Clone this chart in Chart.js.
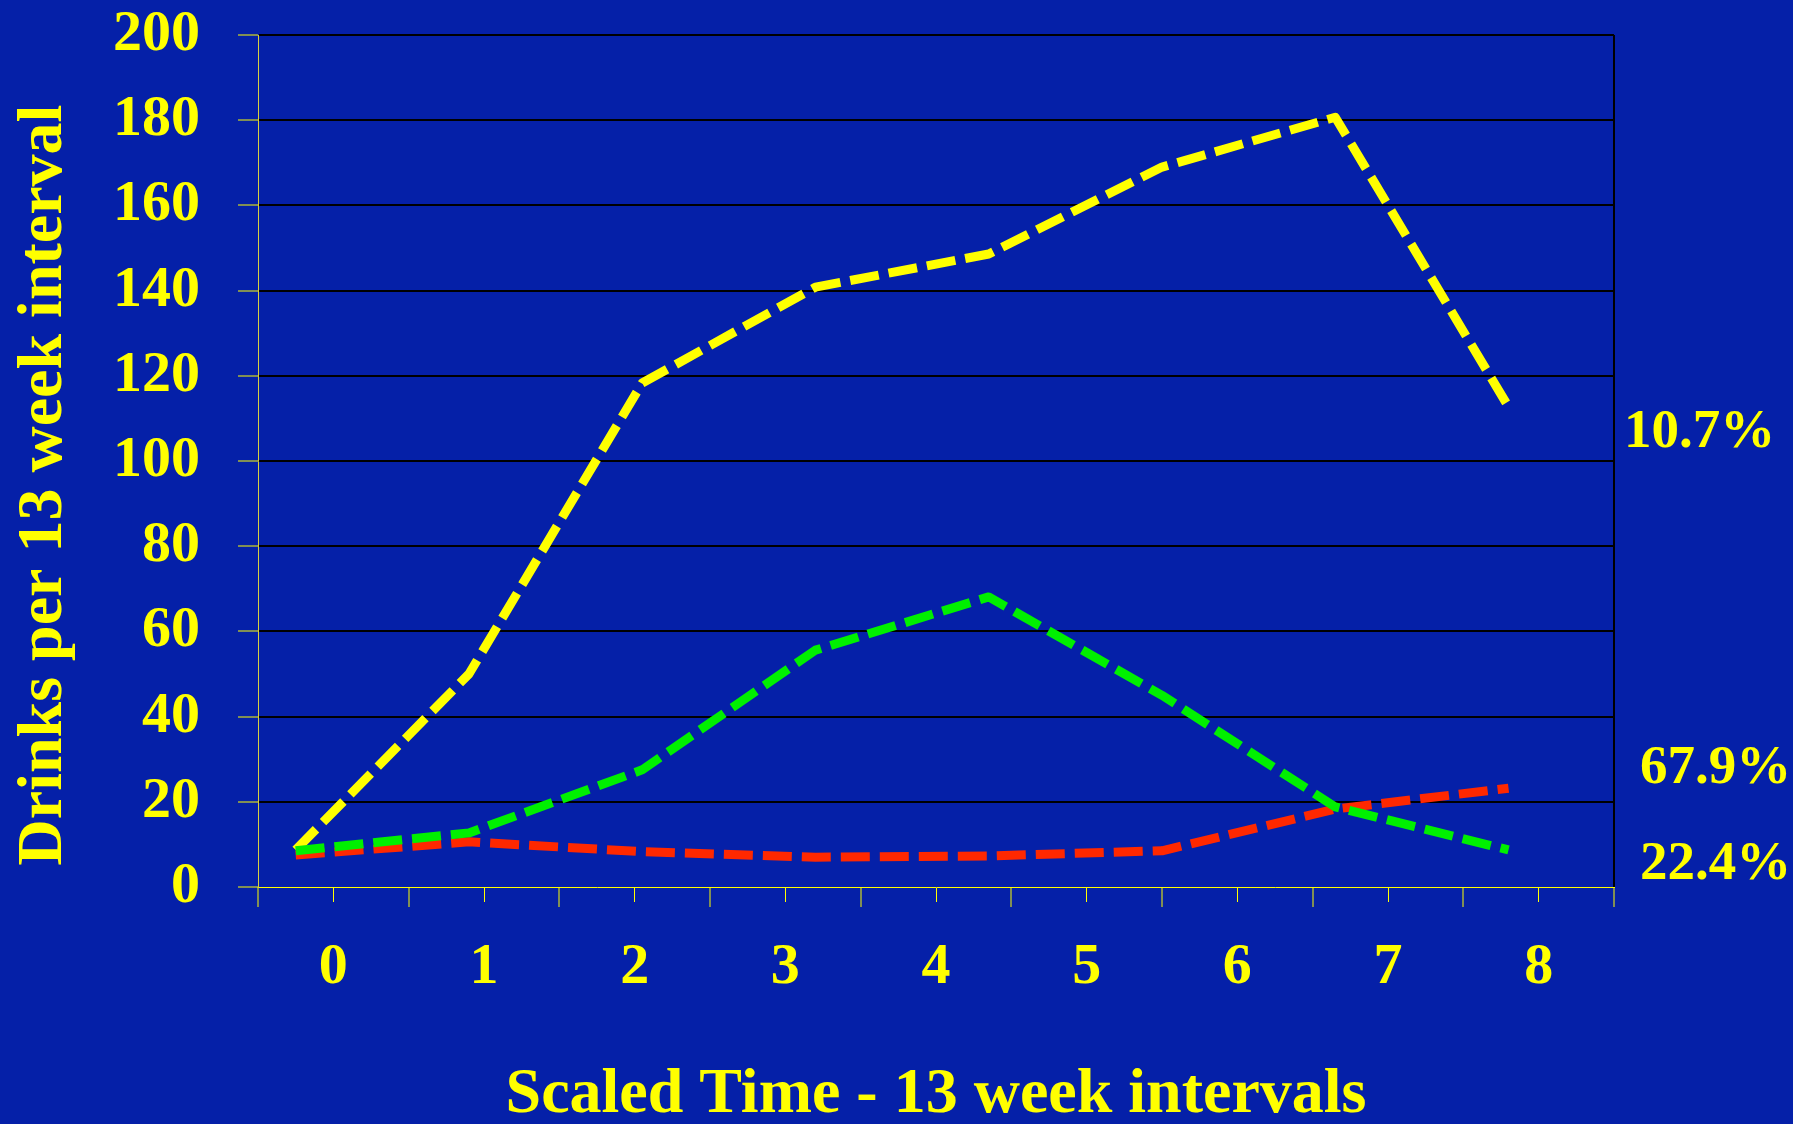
<!DOCTYPE html>
<html>
<head>
<meta charset="utf-8">
<script src="https://cdn.jsdelivr.net/npm/chart.js@4.4.1/dist/chart.umd.min.js"></script>
<style>
  html, body { margin: 0; padding: 0; background: #0520a8; }
  #wrap { width: 1793px; height: 1124px; }
</style>
</head>
<body>
<div id="wrap"><canvas id="myChart"></canvas></div>
<script>
// x axis labels (scaled time, 13 week intervals)
const timeLabels = ['0', '1', '2', '3', '4', '5', '6', '7', '8'];

// where the 8 measurements sit on that scaled time axis
const timePoints = [-0.25, 0.9, 2.05, 3.2, 4.35, 5.5, 6.65, 7.8];

// drinks per 13 week interval, one array per trajectory group
const highGroup = [8.7, 50, 118.3, 140.8, 148.6, 169.0, 180.7, 112.7];
const riseFallGroup = [8.5, 12.7, 27.5, 55.6, 68.1, 45.0, 18.8, 8.7];
const lowGroup = [7.5, 10.6, 8.3, 7.0, 7.3, 8.5, 18.3, 23.2];

// share of subjects in each group, written at the right of the plot
const groupShares = ['10.7%', '67.9%', '22.4%'];
const shareAt = [106.6, 27.7, 5.2];

const yTicks = [0, 20, 40, 60, 80, 100, 120, 140, 160, 180, 200];

const YELLOW = '#ffff00';
const serif = '"Liberation Serif", "Times New Roman", serif';

function toPoints(values) {
  return values.map((v, i) => ({ x: timePoints[i], y: v }));
}

// the percentages next to the plot
const shareLabels = {
  id: 'shareLabels',
  afterDraw(chart) {
    const { ctx, chartArea, scales } = chart;
    const indent = [10, 26, 26];
    ctx.save();
    ctx.fillStyle = YELLOW;
    ctx.font = 'bold 55px ' + serif;
    ctx.textAlign = 'left';
    ctx.textBaseline = 'middle';
    groupShares.forEach((txt, i) => {
      ctx.fillText(txt, chartArea.right + indent[i], scales.y.getPixelForValue(shareAt[i]));
    });
    ctx.restore();
  }
};

const lineStyle = {
  borderWidth: 9,
  borderDash: [29, 10],
  borderCapStyle: 'butt',
  borderJoinStyle: 'round',
  pointRadius: 0,
  tension: 0,
  fill: false
};

new Chart(document.getElementById('myChart'), {
  type: 'line',
  data: {
    datasets: [
      Object.assign({ label: 'rise and fall', data: toPoints(riseFallGroup), borderColor: '#00f000' }, lineStyle),
      Object.assign({ label: 'high', data: toPoints(highGroup), borderColor: YELLOW }, lineStyle),
      Object.assign({ label: 'low', data: toPoints(lowGroup), borderColor: '#ff2800' }, lineStyle)
    ]
  },
  options: {
    responsive: true,
    maintainAspectRatio: false,
    animation: false,
    layout: { padding: { top: 35, right: 179, left: 0, bottom: 0 } },
    plugins: { legend: { display: false }, tooltip: { enabled: false } },
    scales: {
      x: {
        type: 'linear',
        position: 'bottom',
        min: -0.5,
        max: 8.5,
        afterBuildTicks: axis => { axis.ticks = timeLabels.map((_, i) => ({ value: i })); },
        afterFit: axis => { axis.height = 237; },
        ticks: {
          color: YELLOW,
          font: { family: serif, size: 58, weight: 'bold' },
          padding: 31,
          maxRotation: 0,
          autoSkip: false,
          callback: (value, index) => timeLabels[index]
        },
        grid: { drawOnChartArea: false, tickLength: 15, tickColor: YELLOW, tickWidth: 1 },
        border: { color: YELLOW, width: 1 },
        title: {
          display: true,
          text: 'Scaled Time - 13 week intervals',
          color: YELLOW,
          font: { family: serif, size: 64, weight: 'bold', lineHeight: 0.9 },
          padding: { top: 0, bottom: 0 }
        }
      },
      // long ticks between the interval labels, plus the right edge of the plot
      xb: {
        type: 'linear',
        position: { y: 0 },
        min: -0.5,
        max: 8.5,
        afterBuildTicks: axis => {
          axis.ticks = timeLabels.concat(['']).map((_, i) => ({ value: i - 0.5 }));
        },
        ticks: { display: false },
        grid: {
          drawOnChartArea: true,
          color: ctx => (ctx.index === timeLabels.length ? '#000000' : 'rgba(0,0,0,0)'),
          lineWidth: 2,
          tickColor: YELLOW,
          tickLength: 20,
          tickWidth: 1
        },
        border: { display: false }
      },
      y: {
        min: 0,
        max: 200,
        afterBuildTicks: axis => { axis.ticks = yTicks.map(v => ({ value: v })); },
        afterFit: axis => {
          axis.width = 258;
          // labels are far from the axis, don't let that padding push the plot down
          axis.paddingTop = 0;
          axis.paddingBottom = 0;
        },
        ticks: {
          color: YELLOW,
          font: { family: serif, size: 58, weight: 'bold', lineHeight: 1 },
          padding: 38
        },
        grid: {
          color: ctx => (ctx.index === 0 ? 'rgba(0,0,0,0)' : '#000000'),
          lineWidth: 2,
          tickColor: YELLOW,
          tickLength: 20,
          tickWidth: 1
        },
        border: { color: '#d8d040', width: 1 },
        title: {
          display: true,
          // trailing spaces nudge the centred title a little lower, as in the slide
          text: 'Drinks per 13 week interval   ',
          color: YELLOW,
          font: { family: serif, size: 64, weight: 'bold', lineHeight: 1.2 },
          padding: { top: 6, bottom: 0 }
        }
      }
    }
  },
  plugins: [shareLabels]
});
</script>
</body>
</html>
